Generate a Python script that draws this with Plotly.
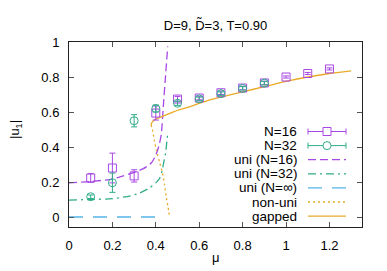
import plotly.graph_objects as go

# ---------------- data ----------------
mu_n16 = [0.1, 0.2, 0.3, 0.4, 0.5, 0.6, 0.7, 0.8, 0.9, 1.0, 1.1, 1.2]
u_n16 = [0.223, 0.28, 0.235, 0.594, 0.674, 0.68, 0.71, 0.737, 0.766, 0.80, 0.82, 0.846]
err_n16 = [0.025, 0.085, 0.035, 0.04, 0.015, 0.01, 0.01, 0.01, 0.01, 0.006, 0.006, 0.006]

mu_n32 = [0.1, 0.2, 0.3, 0.4, 0.5, 0.6, 0.7, 0.8, 0.9]
u_n32 = [0.116, 0.196, 0.55, 0.62, 0.65, 0.675, 0.705, 0.735, 0.765]
err_n32 = [0.01, 0.055, 0.035, 0.02, 0.012, 0.01, 0.01, 0.01, 0.01]

mu_uni16 = [0.0, 0.1, 0.2, 0.25, 0.3, 0.34, 0.36, 0.38, 0.395, 0.405, 0.415, 0.425, 0.435, 0.445, 0.455]
u_uni16 = [0.195, 0.203, 0.217, 0.235, 0.255, 0.275, 0.29, 0.31, 0.34, 0.37, 0.41, 0.47, 0.64, 0.81, 0.975]

mu_uni32 = [0.0, 0.1, 0.2, 0.28, 0.325, 0.37, 0.4, 0.417, 0.43, 0.436, 0.445, 0.454]
u_uni32 = [0.097, 0.10, 0.105, 0.12, 0.137, 0.165, 0.195, 0.22, 0.27, 0.31, 0.365, 0.47]

mu_uniinf = [0.0, 0.44]
u_uniinf = [0.0, 0.0]

mu_nonuni = [0.378, 0.384, 0.393, 0.403, 0.418, 0.431, 0.44, 0.448, 0.456, 0.463]
u_nonuni = [0.526, 0.50, 0.44, 0.38, 0.31, 0.25, 0.185, 0.115, 0.06, 0.0]

mu_gapped = [0.378, 0.382, 0.39, 0.40, 0.43, 0.47, 0.5, 0.555, 0.6, 0.65, 0.7, 0.8, 0.9, 1.0, 1.1, 1.2, 1.3]
u_gapped = [0.526, 0.54, 0.552, 0.56, 0.575, 0.595, 0.61, 0.63, 0.65, 0.67, 0.685, 0.715, 0.745, 0.775, 0.80, 0.82, 0.835]

x_ticks = [0, 0.2, 0.4, 0.6, 0.8, 1.0, 1.2]
x_ticklabels = ["0", "0.2", "0.4", "0.6", "0.8", "1", "1.2"]
y_ticks = [0, 0.2, 0.4, 0.6, 0.8, 1.0]
y_ticklabels = ["0", "0.2", "0.4", "0.6", "0.8", "1"]

legend_labels = ["N=16", "N=32", "uni (N=16)", "uni (N=32)", "uni (N=\u221e)", "non-uni", "gapped"]

# ---------------- style ----------------
PURPLE = "#a848e4"
TEAL = "#30ac88"
BLUE = "#56b4e9"
ORANGE = "#e9aa28"
FONT = "Liberation Sans, Arial, sans-serif"

W, H = 387, 271
L, R, T, B = 69, 25, 42, 44
PW, PH = W - L - R, H - T - B

DASH_UNI16 = "8px,4px"
DASH_UNI32 = "8px,4px,2px,4px"
DASH_UNIINF = "14px,10px"
DASH_NONUNI = "2px,3px"

fig = go.Figure()

fig.add_trace(go.Scatter(x=mu_uniinf, y=u_uniinf, mode="lines",
                         line=dict(color=BLUE, width=1.3, dash=DASH_UNIINF)))
fig.add_trace(go.Scatter(x=mu_uni32, y=u_uni32, mode="lines",
                         line=dict(color=TEAL, width=1.3, dash=DASH_UNI32, shape="spline", smoothing=0.6)))
fig.add_trace(go.Scatter(x=mu_uni16, y=u_uni16, mode="lines",
                         line=dict(color=PURPLE, width=1.3, dash=DASH_UNI16, shape="spline", smoothing=0.6)))
fig.add_trace(go.Scatter(x=mu_nonuni, y=u_nonuni, mode="lines",
                         line=dict(color=ORANGE, width=1.3, dash=DASH_NONUNI, shape="spline", smoothing=0.6)))
fig.add_trace(go.Scatter(x=mu_gapped, y=u_gapped, mode="lines",
                         line=dict(color=ORANGE, width=1.3, shape="spline", smoothing=0.6)))
fig.add_trace(go.Scatter(x=mu_n16, y=u_n16, mode="markers",
                         marker=dict(symbol="square-open", size=8, color=PURPLE, line=dict(width=1)),
                         error_y=dict(type="data", array=err_n16, color=PURPLE, thickness=1, width=3)))
fig.add_trace(go.Scatter(x=mu_n32, y=u_n32, mode="markers",
                         marker=dict(symbol="circle-open", size=8, color=TEAL, line=dict(width=1)),
                         error_y=dict(type="data", array=err_n32, color=TEAL, thickness=1, width=3)))

# ---------------- manual gnuplot-style legend (text left, sample right) ----------------
def px_x(px):
    return (px - L) / PW

def px_y(py):
    return (H - B - py) / PH

LEG_TEXT_RIGHT = 299
LEG_S0, LEG_S1 = 308, 346
LEG_ROW0, LEG_DY = 131.5, 14.1

shapes = []
annotations = []
styles = [
    (PURPLE, "solid", "square"),
    (TEAL, "solid", "circle"),
    (PURPLE, DASH_UNI16, None),
    (TEAL, DASH_UNI32, None),
    (BLUE, DASH_UNIINF, None),
    (ORANGE, DASH_NONUNI, None),
    (ORANGE, "solid", None),
]
for i, (lab, (col, dash, sym)) in enumerate(zip(legend_labels, styles)):
    yy = LEG_ROW0 + i * LEG_DY
    annotations.append(dict(x=px_x(LEG_TEXT_RIGHT), y=px_y(yy), xref="paper", yref="paper",
                            text=lab, showarrow=False, xanchor="right", yanchor="middle",
                            font=dict(size=13.5, color="#000", family=FONT)))
    lw = 1 if sym else 1.3
    shapes.append(dict(type="line", xref="paper", yref="paper",
                       x0=px_x(LEG_S0), x1=px_x(LEG_S1), y0=px_y(yy), y1=px_y(yy),
                       line=dict(color=col, width=lw, dash=dash)))
    if sym:
        for xc in (LEG_S0, LEG_S1):
            shapes.append(dict(type="line", xref="paper", yref="paper",
                               x0=px_x(xc), x1=px_x(xc), y0=px_y(yy - 3), y1=px_y(yy + 3),
                               line=dict(color=col, width=1)))
        xc = (LEG_S0 + LEG_S1) / 2
        shapes.append(dict(type="rect" if sym == "square" else "circle", xref="paper", yref="paper",
                           x0=px_x(xc - 4), x1=px_x(xc + 4), y0=px_y(yy - 4), y1=px_y(yy + 4),
                           line=dict(color=col, width=1), fillcolor="white"))

annotations.append(dict(x=px_x(15), y=px_y(130), xref="paper", yref="paper",
                        text="|u<sub>1</sub>|", showarrow=False, textangle=-90,
                        xanchor="center", yanchor="middle",
                        font=dict(size=13, color="#000", family=FONT)))
annotations.append(dict(x=0.5, y=px_y(257), xref="paper", yref="paper",
                        text="\u03bc", showarrow=False, xanchor="center", yanchor="middle",
                        font=dict(size=13, color="#000", family=FONT)))

axis_common = dict(showgrid=False, zeroline=False, showline=True, linecolor="#222", linewidth=1,
                   mirror="ticks", ticks="inside", ticklen=5, tickcolor="#555", tickwidth=1,
                   automargin=False,
                   tickfont=dict(size=13, color="#000", family=FONT))

fig.update_layout(
    width=W, height=H,
    margin=dict(l=L, r=R, t=T, b=B, autoexpand=False),
    paper_bgcolor="white", plot_bgcolor="white",
    showlegend=False,
    title=dict(text="D=9, D\u0303=3, T=0.90", x=0.5, xref="paper", xanchor="center",
               y=1 - 25 / H, yanchor="middle", font=dict(size=13, color="#000", family=FONT)),
    xaxis=dict(range=[0, 1.35], tickvals=x_ticks, ticktext=x_ticklabels, ticklabelstandoff=6,
               **axis_common),
    yaxis=dict(range=[-0.057, 1.0], tickvals=y_ticks, ticktext=y_ticklabels, ticklabelstandoff=6,
               **axis_common),
    shapes=shapes,
    annotations=annotations,
)

fig.write_html("out.html", config={"displayModeBar": False},
               post_script="document.body.style.margin='0';")
